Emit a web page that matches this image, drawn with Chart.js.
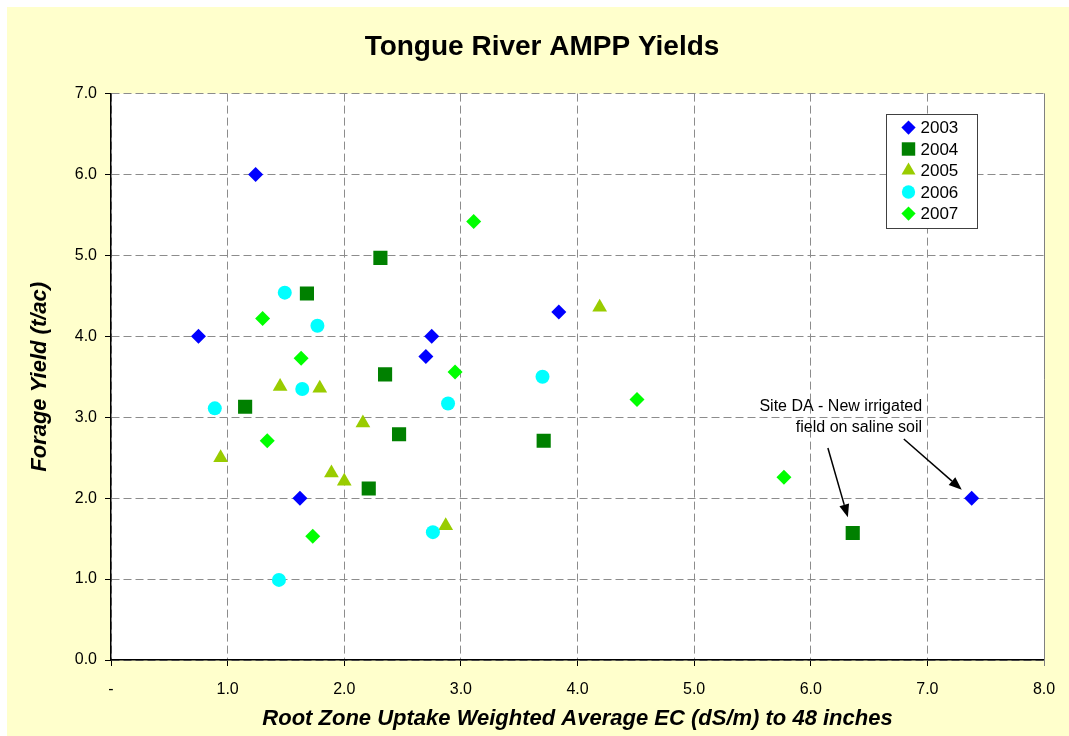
<!DOCTYPE html>
<html>
<head>
<meta charset="utf-8">
<script src="https://cdn.jsdelivr.net/npm/chart.js@4/dist/chart.umd.min.js"></script>
<style>
  html, body { margin: 0; padding: 0; background: #fff; }
  #wrap { position: absolute; left: 7px; top: 7px; width: 1062px; height: 729px; background: #FFFFCC; }
  canvas { display: block; }
</style>
</head>
<body>
<div id="wrap"><canvas id="yields" width="1062" height="729"></canvas></div>
<script>
// series labels
const years = ['2003', '2004', '2005', '2006', '2007'];

// EC (x) and yield (y) per year
const x2003 = [1.24, 0.75, 1.62, 2.75, 2.70, 3.84, 7.38];
const y2003 = [6.00, 4.00, 2.00, 4.00, 3.75, 4.30, 2.00];

const x2004 = [2.31, 1.68, 2.35, 1.15, 2.47, 3.71, 2.21, 6.36];
const y2004 = [4.97, 4.53, 3.53, 3.13, 2.79, 2.71, 2.12, 1.57];

const x2005 = [4.19, 1.45, 1.79, 2.16, 0.94, 1.89, 2.00, 2.87];
const y2005 = [4.36, 3.38, 3.36, 2.93, 2.50, 2.31, 2.21, 1.66];

const x2006 = [1.49, 1.77, 1.64, 0.89, 2.89, 3.70, 2.76, 1.44];
const y2006 = [4.54, 4.13, 3.35, 3.11, 3.17, 3.50, 1.58, 0.99];

const x2007 = [3.11, 1.30, 1.63, 2.95, 4.51, 1.34, 5.77, 1.73];
const y2007 = [5.42, 4.22, 3.73, 3.56, 3.22, 2.71, 2.26, 1.53];

// annotation text and arrows (data units)
const noteLines = ['Site DA - New irrigated', 'field on saline soil'];
const noteX = 6.955;
const noteY = [3.135, 2.868];
const arrows = [
  {from: [6.147, 2.621], to: [6.318, 1.763]},
  {from: [6.798, 2.732], to: [7.295, 2.105]}
];

const FONT = 'Liberation Sans, Arial, sans-serif';
Chart.defaults.font.family = FONT;
Chart.defaults.color = '#000';

const pts = (xs, ys) => xs.map((x, i) => ({x: x, y: ys[i]}));

const styles = [
  {color: '#0000FF', pointStyle: 'rectRot', radius: 7.5},
  {color: '#008000', pointStyle: 'rect', radius: 10},
  {color: '#99CC00', pointStyle: 'triangle', radius: 8.5},
  {color: '#00FFFF', pointStyle: 'circle', radius: 7},
  {color: '#00FF00', pointStyle: 'rectRot', radius: 7.5}
];
const series = [pts(x2003, y2003), pts(x2004, y2004), pts(x2005, y2005), pts(x2006, y2006), pts(x2007, y2007)];

const datasets = series.map((data, i) => ({
  label: years[i],
  data: data,
  pointStyle: styles[i].pointStyle,
  pointRadius: styles[i].radius,
  pointHoverRadius: styles[i].radius,
  pointBackgroundColor: styles[i].color,
  pointBorderColor: styles[i].color,
  pointBorderWidth: 0,
  showLine: false,
  order: years.length - 1 - i
}));

const plotFrame = {
  id: 'plotFrame',
  beforeDraw(chart) {
    const {ctx, chartArea: a} = chart;
    ctx.save();
    ctx.fillStyle = '#fff';
    ctx.fillRect(a.left, a.top, a.right - a.left, a.bottom - a.top);
    ctx.restore();
  },
  afterDraw(chart) {
    const {ctx, chartArea: a, scales} = chart;
    const xs = scales.x, ys = scales.y;
    ctx.save();
    // right edge of the plot
    ctx.strokeStyle = '#808080';
    ctx.lineWidth = 1;
    ctx.beginPath();
    ctx.moveTo(Math.round(a.right) + 0.5, a.top);
    ctx.lineTo(Math.round(a.right) + 0.5, a.bottom + 6);
    ctx.stroke();

    // legend box
    const bw = 91, bh = 114;
    const bx = Math.round(a.right - 67 - bw) + 0.5, by = Math.round(a.top + 20) + 0.5;
    ctx.fillStyle = '#fff';
    ctx.fillRect(bx, by, bw, bh);
    ctx.strokeStyle = '#404040';
    ctx.strokeRect(bx, by, bw, bh);
    ctx.font = '17px ' + FONT;
    ctx.textBaseline = 'middle';
    ctx.textAlign = 'left';
    datasets.forEach((ds, i) => {
      const cy = by + 13 + i * 21.5;
      ctx.fillStyle = styles[i].color;
      Chart.helpers.drawPoint(ctx, {pointStyle: ds.pointStyle, radius: styles[i].radius * 0.95, rotation: 0, borderWidth: 0}, bx + 22, cy);
      ctx.fillStyle = '#000';
      ctx.fillText(ds.label, bx + 34, cy + 1);
    });

    // annotation
    ctx.font = '16px ' + FONT;
    ctx.textAlign = 'right';
    ctx.fillStyle = '#000';
    noteLines.forEach((t, i) => ctx.fillText(t, xs.getPixelForValue(noteX), ys.getPixelForValue(noteY[i])));
    ctx.strokeStyle = '#000';
    ctx.lineWidth = 1.5;
    arrows.forEach(ar => {
      const x1 = xs.getPixelForValue(ar.from[0]), y1 = ys.getPixelForValue(ar.from[1]);
      const x2 = xs.getPixelForValue(ar.to[0]), y2 = ys.getPixelForValue(ar.to[1]);
      const ang = Math.atan2(y2 - y1, x2 - x1);
      const hl = 13, hw = 5;
      ctx.beginPath();
      ctx.moveTo(x1, y1);
      ctx.lineTo(x2 - hl * Math.cos(ang), y2 - hl * Math.sin(ang));
      ctx.stroke();
      ctx.beginPath();
      ctx.moveTo(x2, y2);
      ctx.lineTo(x2 - hl * Math.cos(ang) + hw * Math.sin(ang), y2 - hl * Math.sin(ang) - hw * Math.cos(ang));
      ctx.lineTo(x2 - hl * Math.cos(ang) - hw * Math.sin(ang), y2 - hl * Math.sin(ang) + hw * Math.cos(ang));
      ctx.closePath();
      ctx.fillStyle = '#000';
      ctx.fill();
    });
    ctx.restore();
  }
};

new Chart(document.getElementById('yields'), {
  type: 'scatter',
  data: {datasets: datasets},
  options: {
    responsive: false,
    animation: false,
    devicePixelRatio: 1,
    layout: {padding: {left: 8, right: 0, top: 0, bottom: 0}},
    plugins: {
      legend: {display: false},
      tooltip: {enabled: false},
      title: {
        display: true,
        text: 'Tongue River AMPP Yields',
        font: {size: 28, weight: 'bold'},
        color: '#000',
        padding: {top: 23, bottom: 30}
      }
    },
    scales: {
      x: {
        type: 'linear',
        min: 0, max: 8,
        afterFit(s) { s.height = 76; s.paddingRight = 25; },
        ticks: {
          stepSize: 1,
          font: {size: 16},
          padding: 14,
          color: '#000',
          callback: v => v === 0 ? '-' : v.toFixed(1)
        },
        grid: {color: '#8c8c8c', tickColor: '#000', tickLength: 6, lineWidth: 1},
        border: {color: '#000', width: 1.5, dash: [8, 4]},
        title: {
          display: true,
          text: 'Root Zone Uptake Weighted Average EC (dS/m) to 48 inches',
          font: {size: 22, weight: 'bold', style: 'italic'},
          color: '#000',
          padding: {top: 0, bottom: 4}
        }
      },
      y: {
        type: 'linear',
        min: 0, max: 7,
        afterFit(s) { s.width = 96; },
        ticks: {
          stepSize: 1,
          font: {size: 16},
          padding: 8,
          color: '#000',
          callback: v => v.toFixed(1)
        },
        grid: {color: '#8c8c8c', tickColor: '#000', tickLength: 6, lineWidth: 1},
        border: {color: '#000', width: 1.5, dash: [8, 4]},
        title: {
          display: true,
          text: 'Forage Yield (t/ac)',
          font: {size: 22, weight: 'bold', style: 'italic'},
          color: '#000',
          padding: {top: 12, bottom: 0}
        }
      }
    }
  },
  plugins: [plotFrame]
});
</script>
</body>
</html>
